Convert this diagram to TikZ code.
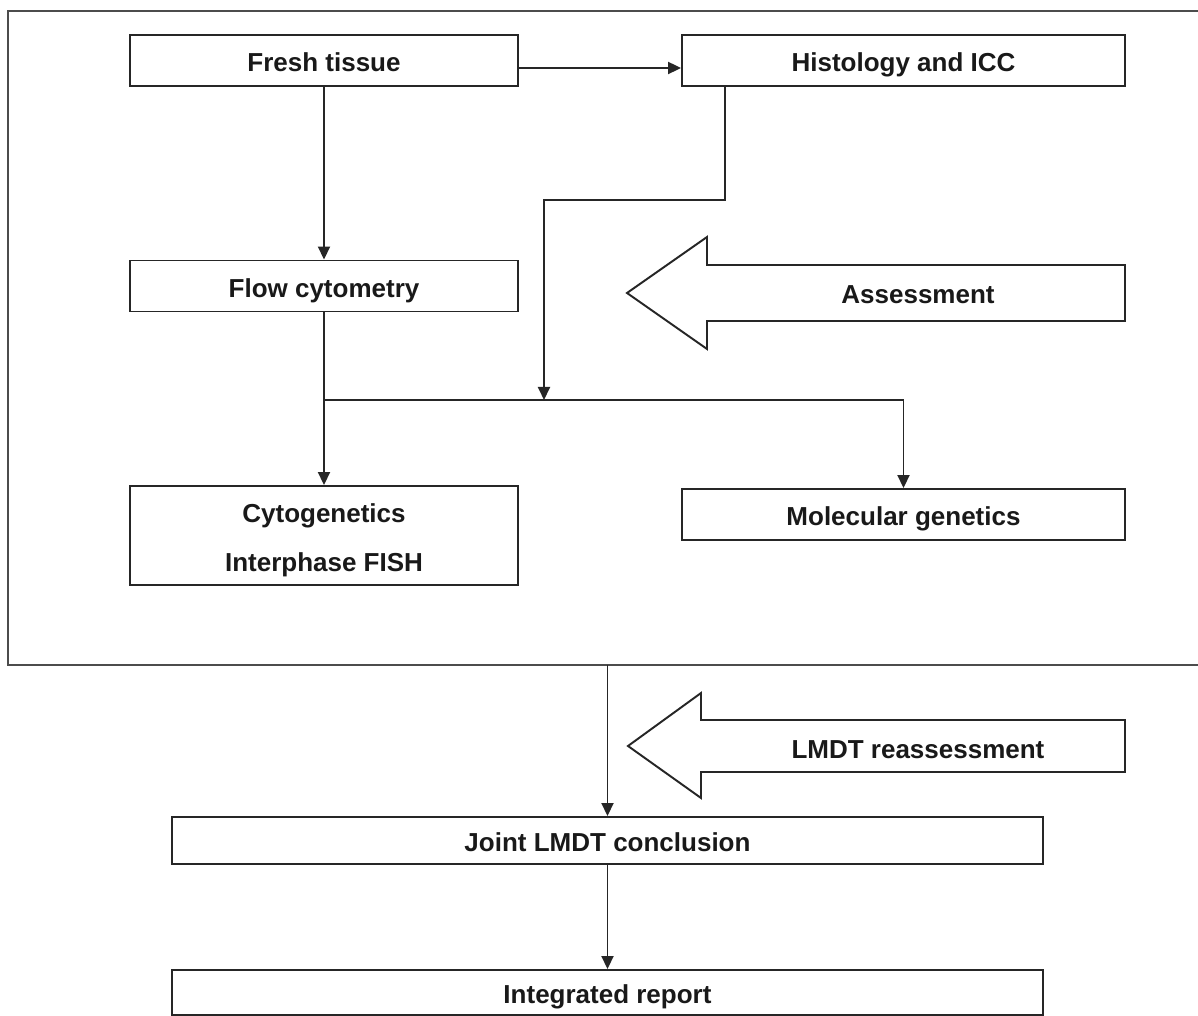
\documentclass[tikz,border=0pt]{standalone}
\usepackage{fontspec}
\setmainfont{Liberation Sans}
\usepackage{tikz}
\usetikzlibrary{calc}
\usetikzlibrary{arrows.meta}
\usetikzlibrary{positioning}

\begin{document}
\begin{tikzpicture}[x=0.02cm, y=-0.02cm, color=black!85, line width=1.1pt,
        txt/.style={font=\fontsize{14.8}{27.8}\selectfont\bfseries, align=center, text=black!90},
        lbl/.style={txt, text height=12.9pt, text depth=0pt},
        frame/.style={draw, rectangle, inner sep=0pt, minimum height=1.02cm},
        box/.style={lbl, frame},
        arr/.style={-{Triangle[length=0.26cm, width=0.24cm]}},
        fat/.style={line join=miter, fill=white}]
        \useasboundingbox (0,0) rectangle (1198,1016);

        % outer frame, open to the right
        \draw[line width=1.6pt, black!70] (8,11) rectangle (1240,665);

        \node[box, minimum width=7.76cm] (fresh) at (324,60.5) {Fresh tissue};
        \node[box, minimum width=8.86cm] (histo) at (903.5,60.5) {Histology and ICC};
        \node[box, minimum width=7.76cm] (flow) at (324,286) {Flow cytometry};
        \node[txt, frame, minimum width=7.76cm, minimum height=1.98cm] (cyto) at (324,535.5) {\rule{0pt}{1.1em}Cytogenetics\\Interphase FISH};
        \node[box, minimum width=8.86cm] (molec) at (903.5,514.5) {Molecular genetics};
        \node[box, minimum width=17.42cm, minimum height=0.94cm] (joint) at (607.5,840.5) {Joint LMDT conclusion};
        \node[box, minimum width=17.42cm, minimum height=0.9cm] (report) at (607.5,992.5) {Integrated report};

        \coordinate (split) at (324,400);
        \coordinate (hbend) at (544,200);
        \coordinate (hdrop) at (544,400);
        \coordinate (framebot) at (607.5,665);

        \draw[arr] (fresh.south) -- (flow.north);
        \draw[arr] ([yshift=-0.15cm]fresh.east) -- ([yshift=-0.15cm]histo.west);
        \draw[arr] ([xshift=0.88cm]histo.south west) |- (hbend) -- (hdrop);
        \draw (flow.south) -- (split);
        \draw[arr] (split) -- (cyto.north);
        \draw[arr] (split) -| (molec.north);
        \draw[arr] (framebot) -- (joint.north);
        \draw[arr] (joint.south) -- (report.north);

        % block arrows
        \draw[fat] (1125,265) -- (707,265) -- (707,237) -- (627,293) -- (707,349) -- (707,321) -- (1125,321) -- cycle;
        \node[lbl] (assess) at (918,292) {Assessment};
        \draw[fat] (1125,720) -- (701,720) -- (701,693) -- (628,746) -- (701,798) -- (701,772) -- (1125,772) -- cycle;
        \node[lbl] (reassess) at (918,747) {LMDT reassessment};
    \end{tikzpicture}
\end{document}
